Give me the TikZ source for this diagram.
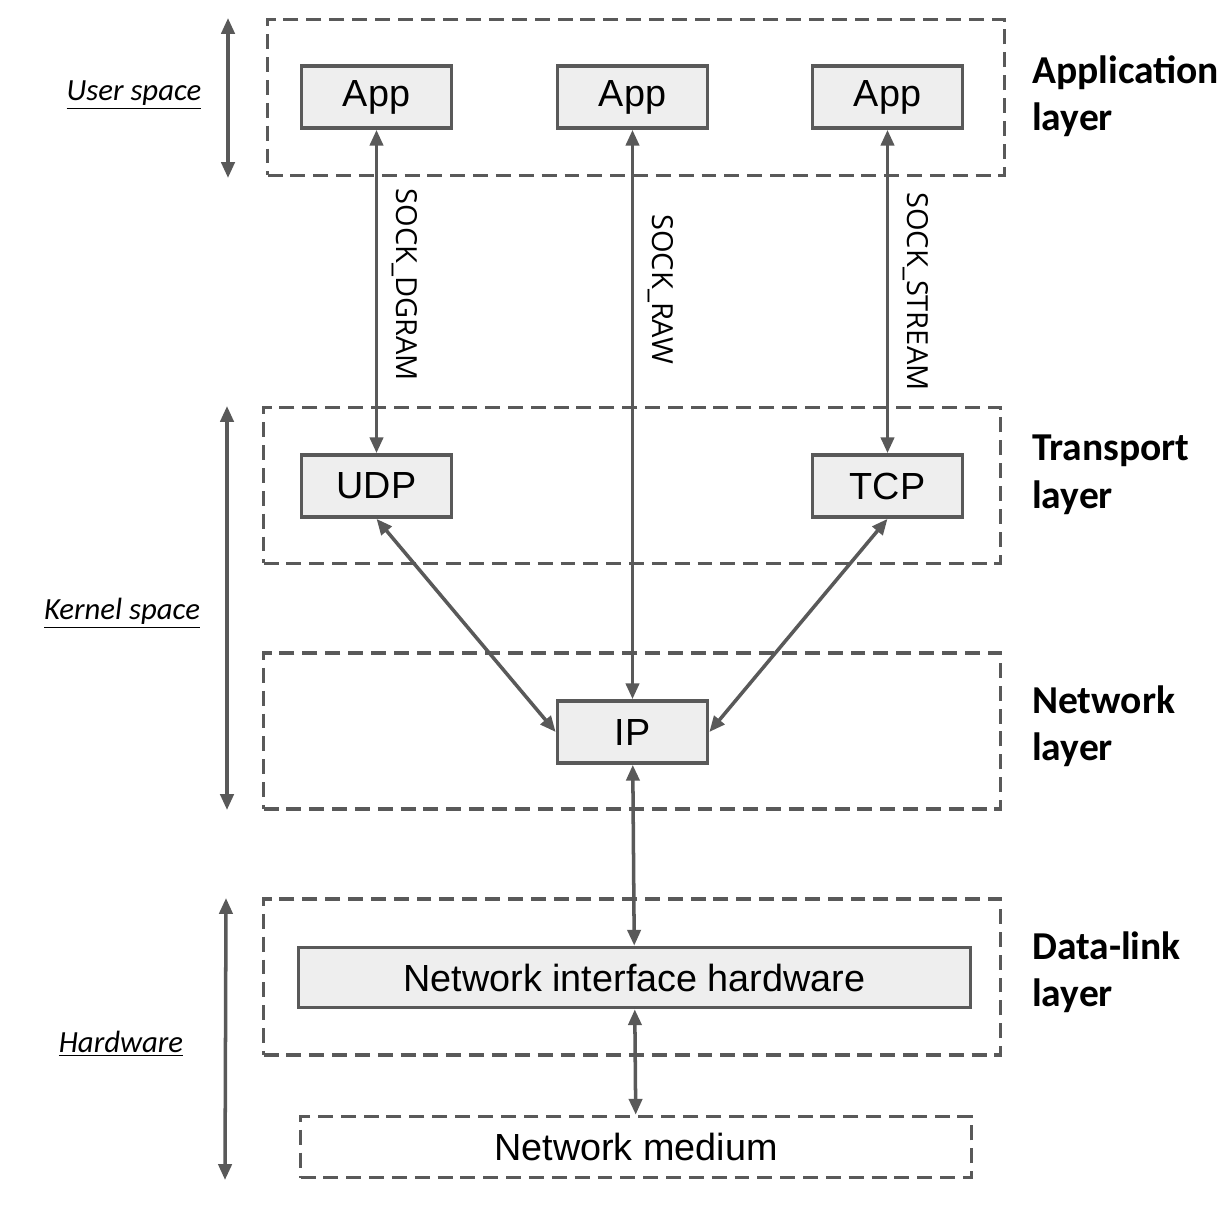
\documentclass[tikz,border=0pt]{standalone}
\usepackage{fontspec}
\setmainfont{Liberation Sans}
\newfontfamily\layerfont{Carlito}
\newfontfamily\sockfont{Open Sans}
\usepackage{tikz}
\usetikzlibrary{arrows.meta,positioning}

\definecolor{linegray}{HTML}{595959}
\definecolor{boxgray}{HTML}{EEEEEE}

\begin{document}
\begin{tikzpicture}[x=0.02cm,y=-0.02cm,>={Triangle[length=9pt,width=7.5pt]}]
\tikzstyle{box}=[draw=linegray, fill=boxgray, line width=2.1pt, minimum width=3cm, minimum height=1.24cm, inner sep=0pt, font=\fontsize{21.5}{25}\selectfont]
\tikzstyle{layer}=[draw=linegray, line width=2.1pt, dash pattern=on 8.5pt off 4.5pt, minimum width=14.74cm, minimum height=3.12cm, inner sep=0pt]
\tikzstyle{layername}=[anchor=west, align=left, font=\layerfont\bfseries\fontsize{22.5}{27}\selectfont]
\tikzstyle{space}=[font=\layerfont\itshape\fontsize{17.5}{21}\selectfont]
\tikzstyle{link}=[<->, draw=linegray, line width=2pt]
\tikzstyle{sock}=[font=\sockfont\fontsize{16.5}{19}\selectfont, rotate=-90, anchor=south, inner sep=0pt, outer sep=9pt]
\useasboundingbox (0,0) rectangle (1230,1206);

% layers
\node[layer] (applayer) at (636,97.5) {};
\node[layer] (translayer) at (632,485.5) {};
\node[layer] (netlayer) at (632,731) {};
\node[layer] (linklayer) at (632,977) {};
\node[layer, minimum width=13.42cm, minimum height=1.22cm, font=\fontsize{21.5}{25}\selectfont] (medium) at (636,1147) {Network medium};

% boxes
\node[box] (app1) at (376.5,97) {App};
\node[box] (app2) at (632.5,97) {App};
\node[box] (app3) at (887.5,97) {App};
\node[box] (udp) at (376.5,486) {UDP};
\node[box] (tcp) at (887.5,486) {TCP};
\node[box] (ip) at (632.5,732) {IP};
\node[box, minimum width=13.44cm, minimum height=1.2cm] (nic) at (634.5,977.5) {Network interface hardware};

% layer names
\node[layername] (appname) at (1026,96) {Application\\layer};
\node[layername] (transname) at (1026,475) {Transport\\layer};
\node[layername] (netname) at (1026,726) {Network\\layer};
\node[layername] (linkname) at (1026,972) {Data-link\\layer};

% spaces
\coordinate (user top) at (228,18);
\coordinate (user bot) at (228,178);
\coordinate (kern top) at (227,406);
\coordinate (kern bot) at (227,810);
\coordinate (hw top) at (226,898);
\coordinate (hw bot) at (225,1180);
\draw[link] (user top) -- (user bot);
\draw[link] (kern top) -- (kern bot);
\draw[link] (hw top) -- (hw bot);
\node[space] (user) at (134,95) {\underline{User space}};
\node[space] (kernel) at (122,613) {\underline{Kernel space}};
\node[space] (hw) at (121,1044) {\underline{Hardware}};

% sockets
\draw[link] (app1) -- (udp) node[sock, pos=0.48] {SOCK\_DGRAM};
\draw[link] (app2) -- (ip) node[sock, pos=0.28] {SOCK\_RAW};
\draw[link] (app3) -- (tcp) node[sock, pos=0.5] {SOCK\_STREAM};
\draw[link] (udp.south) -- (ip.west);
\draw[link] (tcp.south) -- (ip.east);
\draw[link] (ip) -- (nic);
\draw[link] (nic) -- (medium);
\end{tikzpicture}
\end{document}
